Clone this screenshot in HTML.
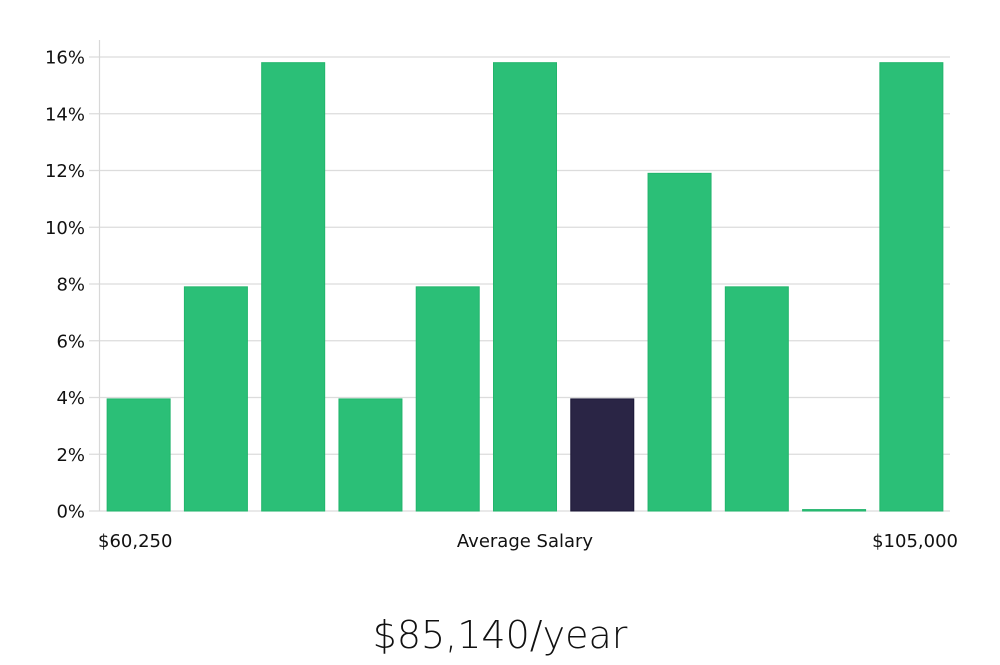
<!DOCTYPE html>
<html><head><meta charset="utf-8"><style>
body{margin:0;background:#fff;width:1000px;height:660px;overflow:hidden}
svg text{font-family:"DejaVu Sans","Liberation Sans",sans-serif}
</style></head><body>
<svg id="chart" width="1000" height="660" xmlns="http://www.w3.org/2000/svg">
<g id="grid"></g><g id="bars"></g><g id="yaxis"></g>
<text x="98" y="547" font-size="18" fill="#111">$60,250</text>
<text x="525" y="547" font-size="18" fill="#111" text-anchor="middle">Average Salary</text>
<text x="958" y="547" font-size="18" fill="#111" text-anchor="end">$105,000</text>
<text x="500" y="648" font-size="38" fill="#111" text-anchor="middle" style="font-family:'DejaVu Sans',sans-serif;font-weight:200">$85,140/year</text>
</svg>
<script>
const values=[3.95,7.9,15.8,3.95,7.9,15.8,3.95,11.9,7.9,0.05,15.8];
const highlight=[false,false,false,false,false,false,true,false,false,false,false];
const yTicks=[0,2,4,6,8,10,12,14,16];
const yTickLabels=["0%","2%","4%","6%","8%","10%","12%","14%","16%"];
const NS="http://www.w3.org/2000/svg";
const y0=511,yPer=28.375,x0=100,x1=950;
const yScale=v=>y0-v*yPer;
const step=(x1-x0)/values.length,bw=63;
const xScale=i=>x0+i*step+(step-bw)/2;
function mk(t,a){const e=document.createElementNS(NS,t);for(const k in a)e.setAttribute(k,a[k]);return e;}
const grid=document.getElementById('grid'),ya=document.getElementById('yaxis'),bars=document.getElementById('bars');
yTicks.forEach((v,i)=>{
  const l=mk('line',{x1:89,x2:x1,y1:yScale(v),y2:yScale(v),stroke:'#dcdcdc','stroke-width':1.2});
  
  
  grid.appendChild(l);
  const t=mk('text',{x:85,y:yScale(v)+6.5,'font-size':18,fill:'#111','text-anchor':'end'});
  t.textContent=yTickLabels[i];
  
  
  ya.appendChild(t);
});
const ax=mk('line',{x1:99.5,x2:99.5,y1:40,y2:y0,stroke:'#d8d8d8','stroke-width':1.2});


ya.appendChild(ax);
values.forEach((v,i)=>{
  const h=Math.max(1,v*yPer);
  const r=mk('rect',{x:xScale(i),y:y0-h,width:bw,height:h,fill:highlight[i]?'#2a2545':'#2bbf77',stroke:highlight[i]?'#1c1838':'#22b56c','stroke-width':1});
  
  
  bars.appendChild(r);
});
</script>
</body></html>
